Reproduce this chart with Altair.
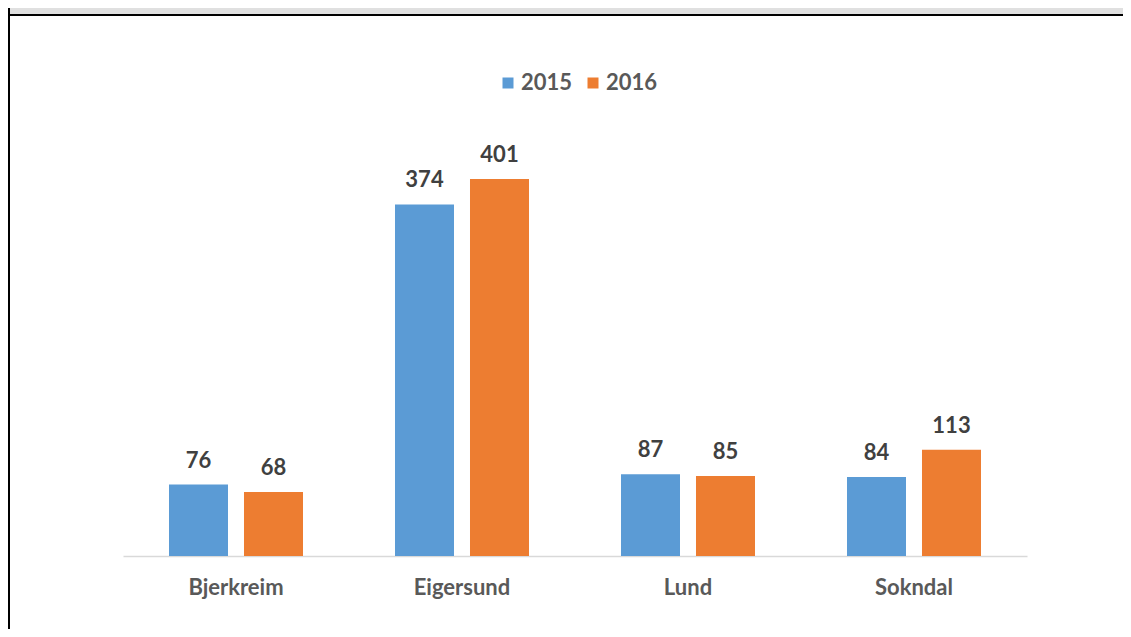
import altair as alt
import pandas as pd

categories = ["Bjerkreim", "Eigersund", "Lund", "Sokndal"]
years = ["2015", "2016"]
values_2015 = [76, 374, 87, 84]
values_2016 = [68, 401, 85, 113]
colors = ["#5B9BD5", "#ED7D31"]

rows = []
for c, a, b in zip(categories, values_2015, values_2016):
    rows.append({"cat": c, "year": "2015", "val": a})
    rows.append({"cat": c, "year": "2016", "val": b})
df = pd.DataFrame(rows)

FONT = "Lato"
FS = 22

x = alt.X("cat:N", sort=categories, title=None,
          scale=alt.Scale(paddingInner=0, paddingOuter=0),
          axis=alt.Axis(labelAngle=0, ticks=False, grid=False, domainColor="#d9d9d9",
                        domainWidth=1.5, labelFont=FONT, labelFontSize=FS, labelFontWeight="bold",
                        labelColor="#595959", labelPadding=21))
xo = alt.XOffset("year:N", sort=years,
                 scale=alt.Scale(paddingInner=0.2133, paddingOuter=0.6133))
y = alt.Y("val:Q", title=None, axis=None, scale=alt.Scale(domain=[0, 450], nice=False))

base = alt.Chart(df)
bars = base.mark_bar().encode(
    x=x, xOffset=xo, y=y,
    color=alt.Color("year:N", sort=years,
                    scale=alt.Scale(domain=years, range=colors),
                    legend=alt.Legend(orient="none", legendX=374, legendY=-61,
                                      direction="horizontal", title=None,
                                      symbolType="square", symbolSize=121,
                                      symbolStrokeWidth=0, labelFont=FONT,
                                      labelFontSize=FS, labelFontWeight="bold",
                                      labelColor="#595959", labelOffset=2,
                                      columnPadding=9)),
)
labels = base.mark_text(font=FONT, fontSize=FS, fontWeight="bold", color="#404040",
                        baseline="alphabetic", dy=-17).encode(
    x=x, xOffset=xo, y=y, text="val:Q")

one = pd.DataFrame({"a": [0]})
gray_band = alt.Chart(one).mark_rect(color="#e0e0e0").encode(
    x=alt.value(-113), x2=alt.value(1000), y=alt.value(-126), y2=alt.value(-119))
top_line = alt.Chart(one).mark_rect(color="#000000").encode(
    x=alt.value(-115), x2=alt.value(1000), y=alt.value(-119), y2=alt.value(-117))
left_line = alt.Chart(one).mark_rect(color="#000000").encode(
    x=alt.value(-115), x2=alt.value(-113), y=alt.value(-126), y2=alt.value(500))

chart = alt.layer(gray_band, top_line, left_line, bars, labels).properties(
    width=904, height=423,
    autosize=alt.AutoSizeParams(type="none"),
    padding={"left": 115, "top": 125, "right": 96, "bottom": 73},
).configure_view(stroke=None, strokeWidth=0)

chart.save("out.html", embed_options={"renderer": "svg", "actions": False})
